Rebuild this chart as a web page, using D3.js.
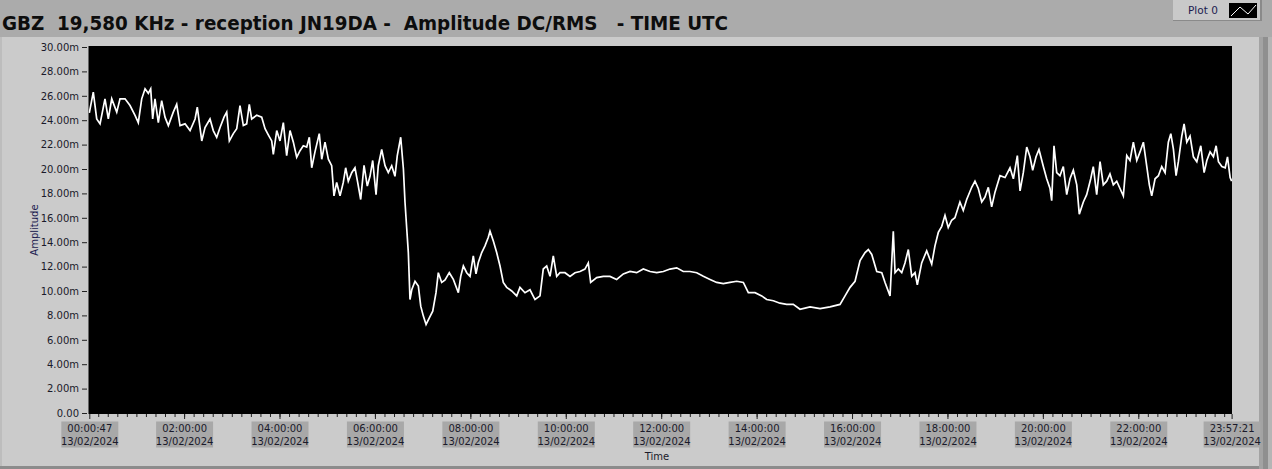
<!DOCTYPE html>
<html><head><meta charset="utf-8">
<script src="https://cdn.jsdelivr.net/npm/d3@7/dist/d3.min.js"></script>
<style>
html,body{margin:0;padding:0;background:#cbcbcb;overflow:hidden;}
svg{display:block;}
text{font-family:"DejaVu Sans",Verdana,sans-serif;}
</style></head><body>
<svg id="chart" width="1272" height="469"></svg>
<script>
// ---------- data ----------
const chartTitle = "GBZ  19,580 KHz - reception JN19DA -  Amplitude DC/RMS   - TIME UTC";
const legendLabel = "Plot 0";
const yAxisTitle = "Amplitude";
const xAxisTitle = "Time";
const dateLabel = "13/02/2024";
const startTime = [0, 0, 47];
const endTime = [23, 57, 21];
const yTickValues = [0, 2, 4, 6, 8, 10, 12, 14, 16, 18, 20, 22, 24, 26, 28, 30];
const xMajorHours = [2, 4, 6, 8, 10, 12, 14, 16, 18, 20, 22];
// minutes since 00:00 UTC
const timeMin = [
0.8,5.8,10.1,14.3,20.5,24.7,29.0,35.3,39.4,45.7,52.0,58.3,62.4,66.7,70.9,75.0,78.0,80.5,83.4,87.6,
91.8,96.0,100.2,106.4,110.7,114.9,121.2,127.5,133.8,136.6,142.2,146.3,152.6,156.7,161.0,165.2,170.2,173.6,176.9,181.9,
186.2,190.3,194.5,198.7,202.0,205.0,211.3,217.6,221.8,225.9,230.2,232.2,236.5,240.6,244.8,249.0,253.2,257.4,261.6,265.8,
269.9,274.2,277.5,280.5,284.6,290.0,293.1,297.2,301.4,305.6,308.5,311.9,316.1,320.2,323.2,326.5,330.8,334.9,338.3,342.1,
346.3,350.4,353.8,357.2,361.4,364.2,368.5,372.7,376.8,381.1,385.2,388.1,392.4,395.8,397.8,400.0,402.0,404.1,406.3,410.4,
414.6,417.6,420.9,424.3,428.4,432.7,436.8,439.7,444.0,448.2,453.5,458.6,464.9,467.9,471.2,475.4,479.6,483.7,487.1,490.0,
494.3,498.4,502.6,504.7,508.9,513.1,517.3,521.4,525.7,532.0,538.3,542.4,548.7,555.0,561.3,567.6,571.7,576.0,580.2,584.3,
588.6,592.7,599.0,605.3,611.6,617.9,624.1,628.3,631.3,638.9,647.2,655.6,664.0,672.4,680.8,689.2,697.5,706.0,714.4,722.7,
731.1,739.5,747.8,756.2,764.7,773.0,781.4,789.8,798.1,806.6,815.0,823.3,829.6,838.0,846.4,852.7,861.0,869.4,877.8,886.1,
894.6,907.2,919.8,932.3,944.9,951.2,957.5,963.8,970.1,976.4,980.5,984.8,991.1,997.4,1001.5,1007.8,1011.9,1014.1,1018.2,1022.5,
1026.6,1030.8,1035.1,1039.2,1042.1,1047.6,1053.9,1060.2,1064.3,1068.5,1072.8,1076.9,1081.0,1085.3,1089.4,1095.7,1099.9,1104.2,1110.5,1114.6,
1118.8,1123.1,1127.2,1131.4,1135.6,1139.8,1146.1,1152.4,1158.7,1162.9,1167.9,1171.3,1175.4,1179.7,1183.8,1187.2,1191.4,1195.1,1200.6,1204.8,
1209.0,1211.1,1214.0,1217.4,1221.5,1225.7,1230.0,1234.1,1238.3,1242.6,1245.8,1250.9,1255.1,1260.2,1263.4,1267.7,1271.9,1276.0,1280.3,1284.4,
1288.6,1292.9,1297.0,1301.2,1305.5,1309.6,1313.8,1318.1,1322.2,1326.4,1330.7,1333.9,1336.9,1341.1,1345.3,1349.5,1353.7,1357.8,1360.9,1364.2,
1367.5,1370.4,1374.7,1377.6,1381.0,1385.1,1389.3,1393.6,1398.6,1402.8,1406.2,1410.3,1414.5,1417.9,1420.8,1425.1,1429.3,1432.2,1435.5,1437.4
];
// amplitude in milli-units
const amplitude = [
24.6,26.3,24.1,23.7,25.75,24.1,25.75,24.66,25.75,25.75,25.2,24.4,23.8,25.75,26.57,26.2,26.57,24.1,25.75,23.8,
25.6,24.25,23.56,24.66,25.3,23.56,23.7,23.15,24.1,25.07,22.3,23.4,24.1,23.15,22.6,23.4,24.25,24.66,22.3,22.9,
23.3,25.2,23.56,23.7,25.3,24.1,24.4,24.25,23.3,22.8,22.3,21.2,23.15,22.3,23.8,21.1,23.15,22.2,20.96,21.5,
21.9,21.8,22.6,20.1,21.4,22.9,20.8,22.2,20.8,20.27,17.8,18.9,17.8,18.9,20.1,19.0,19.7,20.1,18.9,17.5,
20.3,18.6,19.4,20.7,17.9,20.27,21.6,20.27,19.7,20.27,19.4,21.1,22.6,20.0,17.3,15.1,13.15,9.3,10.1,10.8,
10.4,8.76,7.94,7.26,7.8,8.35,9.86,11.5,10.7,10.9,11.5,10.95,9.86,11.2,12.05,11.5,11.2,12.87,11.4,12.33,
13.15,13.7,14.4,14.9,14.1,13.15,12.05,10.7,10.3,10.0,9.6,10.3,9.86,10.1,9.3,9.6,11.8,12.05,11.2,12.87,
11.2,11.5,11.5,11.2,11.5,11.6,11.8,12.3,10.7,11.1,11.2,11.2,10.95,11.4,11.6,11.5,11.8,11.6,11.5,11.6,
11.8,11.9,11.6,11.6,11.5,11.2,10.95,10.7,10.6,10.7,10.8,10.7,9.86,9.86,9.6,9.3,9.2,9.0,8.9,8.9,
8.5,8.7,8.55,8.7,8.9,9.6,10.3,10.8,12.5,13.15,13.4,13.0,11.6,11.5,10.7,9.6,14.9,11.5,11.8,11.5,
12.3,13.4,11.2,11.5,10.5,12.3,13.3,12.2,13.7,14.8,15.3,16.2,15.2,15.8,16.0,17.3,16.6,17.5,18.5,19.0,
18.4,17.3,17.7,18.5,16.9,18.1,19.45,19.3,20.1,19.2,21.1,18.2,19.7,21.8,21.0,19.9,21.0,21.6,20.2,19.2,
18.4,17.4,21.9,19.7,19.45,20.2,17.9,19.2,19.9,18.7,16.3,17.3,17.9,19.2,20.2,17.9,20.6,18.7,19.0,19.6,
18.7,19.0,18.4,17.8,21.1,20.7,22.2,20.7,21.4,22.2,20.2,18.7,17.8,19.2,19.45,20.2,19.7,22.2,22.9,21.6,
19.45,20.6,22.7,23.7,22.2,22.7,21.0,20.6,21.9,19.7,20.7,21.4,21.0,21.9,20.6,20.2,20.1,21.0,19.3,19.0
];

// ---------- layout ----------
const W = 1272, H = 469;
const plot = {x0: 88.5, x1: 1232, y0: 46, y1: 414};
const svg = d3.select("#chart");

// background pieces
svg.append("rect").attr("x",0).attr("y",0).attr("width",W).attr("height",H).attr("fill","#cbcbcb");
svg.append("rect").attr("x",0).attr("y",0).attr("width",W).attr("height",37).attr("fill","#ababab");
svg.append("rect").attr("x",0).attr("y",37).attr("width",2).attr("height",H-37).attr("fill","#bdbdbd");
svg.append("rect").attr("x",0).attr("y",466).attr("width",W).attr("height",3).attr("fill","#8c8c8c");
svg.append("rect").attr("x",1259).attr("y",37).attr("width",4).attr("height",H-37).attr("fill","#a3a3a3");
svg.append("rect").attr("x",1263).attr("y",37).attr("width",5).attr("height",H-37).attr("fill","#8f8f8f");
svg.append("rect").attr("x",1268).attr("y",37).attr("width",4).attr("height",H-37).attr("fill","#b5b5b5");

// title
svg.append("text").attr("x",2).attr("y",30)
  .style("white-space","pre")
  .attr("font-weight","bold").attr("font-size",19.5).attr("fill","#0d0d0d")
  .attr("textLength",726).attr("lengthAdjust","spacingAndGlyphs")
  .text(chartTitle);

// legend
const lg = svg.append("g");
lg.append("rect").attr("x",1173).attr("y",0).attr("width",89).attr("height",21).attr("fill","#c9c9c9");
lg.append("rect").attr("x",1173).attr("y",20).attr("width",89).attr("height",1).attr("fill","#8a8a8a");
lg.append("rect").attr("x",1260).attr("y",0).attr("width",2).attr("height",21).attr("fill","#8a8a8a");
lg.append("text").attr("x",1188).attr("y",14).attr("font-size",10.5).attr("fill","#1c1c50").text(legendLabel);
lg.append("rect").attr("x",1229).attr("y",3).attr("width",28).attr("height",15).attr("fill","#000");
lg.append("polyline").attr("points","1231,16 1240,7 1248,14 1256,5")
  .attr("fill","none").attr("stroke","#fff").attr("stroke-width",1);

// plot background
svg.append("rect").attr("x",plot.x0).attr("y",plot.y0)
  .attr("width",plot.x1-plot.x0).attr("height",plot.y1-plot.y0).attr("fill","#000");

// scales
const base = new Date(2024,1,13,0,0,0).getTime();
const tStart = new Date(2024,1,13,...startTime);
const tEnd = new Date(2024,1,13,...endTime);
const x = d3.scaleTime().domain([tStart,tEnd]).range([89.3,1231.6]);
const y = d3.scaleLinear().domain([0,30]).range([413,47]);

// y axis
const yAxis = d3.axisLeft(y).tickValues(yTickValues).tickSize(5).tickPadding(3)
  .tickFormat(d => d === 0 ? "0.00" : d.toFixed(2) + "m");
const gy = svg.append("g").attr("transform","translate(87,0)").call(yAxis);
gy.select(".domain").remove();
gy.selectAll("line").attr("stroke","#222");
gy.selectAll("text").attr("font-size",10).attr("fill","#1a1a2a").attr("font-family","DejaVu Sans");

svg.append("text").attr("transform","translate(38,230) rotate(-90)")
  .attr("text-anchor","middle").attr("font-size",10).attr("fill","#1c1c50").text(yAxisTitle);

// x axis minor ticks (12 min)
const minorTicks = d3.timeMinute.every(12).range(tStart, new Date(tEnd.getTime()+1));
const gxm = svg.append("g").attr("transform","translate(0,414)")
  .call(d3.axisBottom(x).tickValues(minorTicks).tickSize(3).tickFormat(""));
gxm.select(".domain").remove();
gxm.selectAll("line").attr("stroke","#222");

// x axis major
const majorTicks = [tStart, ...xMajorHours.map(h => new Date(2024,1,13,h,0,0)), tEnd];
const fmt = d3.timeFormat("%H:%M:%S");
const gx = svg.append("g").attr("transform","translate(0,414)")
  .call(d3.axisBottom(x).tickValues(majorTicks).tickSize(5).tickFormat(""));
gx.select(".domain").remove();
gx.selectAll("line").attr("stroke","#222");
gx.selectAll(".tick").each(function(d){
  const g = d3.select(this);
  g.append("rect").attr("x",-28.5).attr("y",7.5).attr("width",57).attr("height",26).attr("fill","#a8a8a8");
  const t = g.append("text").attr("text-anchor","middle").attr("font-size",10).attr("fill","#1a1a2a");
  t.append("tspan").attr("x",0).attr("y",18).text(fmt(d));
  t.append("tspan").attr("x",0).attr("y",31).text(dateLabel);
});

svg.append("text").attr("x",657).attr("y",460).attr("text-anchor","middle")
  .attr("font-size",10).attr("fill","#1a1a2a").text(xAxisTitle);

// trace
svg.append("clipPath").attr("id","clip").append("rect")
  .attr("x",plot.x0).attr("y",plot.y0).attr("width",plot.x1-plot.x0).attr("height",plot.y1-plot.y0);
const pts = timeMin.map((m,i) => ({t: new Date(base + m*60000), v: amplitude[i]}));
const line = d3.line().x(d => x(d.t)).y(d => y(d.v));
svg.append("path").datum(pts).attr("clip-path","url(#clip)")
  .attr("d",line).attr("fill","none").attr("stroke","#fff").attr("stroke-width",1.7)
  .attr("stroke-linejoin","miter");
</script>
</body></html>
